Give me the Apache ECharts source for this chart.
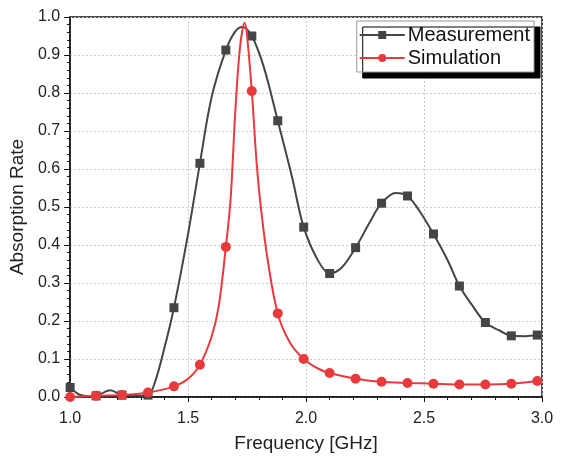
<!DOCTYPE html>
<html><head><meta charset="utf-8">
<script src="https://cdn.jsdelivr.net/npm/echarts@6/dist/echarts.min.js"></script>
<style>html,body{margin:0;padding:0;background:#fff}#c{width:573px;height:462px}</style>
</head><body><div id="c"></div>
<script>
// Marker frequencies (GHz), shared by both series
var markerFreq = [1.00,1.11,1.22,1.33,1.44,1.55,1.66,1.77,1.88,1.99,2.10,2.21,2.32,2.43,2.54,2.65,2.76,2.87,2.98];
// Measurement: values at markers
var measMarkerVal = [0.025,0.003,0.005,0.005,0.235,0.615,0.913,0.950,0.727,0.447,0.325,0.393,0.510,0.529,0.429,0.292,0.196,0.161,0.163];
// Measurement: extra curve readings between markers
var measExtraFreq = [1.04,1.08,1.17,1.28,1.36,1.40,1.50,1.60,1.70,1.73,1.82,1.94,2.05,2.15,2.27,2.38,2.48,2.60,2.70,2.82,2.93];
var measExtraVal  = [0.006,0.002,0.018,0.003,0.040,0.130,0.430,0.790,0.962,0.974,0.870,0.580,0.360,0.340,0.460,0.537,0.490,0.360,0.245,0.175,0.160];
// Simulation: values at markers
var simMarkerVal = [0.000,0.003,0.005,0.012,0.028,0.085,0.395,0.805,0.220,0.100,0.063,0.048,0.040,0.037,0.035,0.033,0.033,0.035,0.042];
// Simulation: extra curve readings between markers
var simExtraFreq = [1.50,1.60,1.63,1.68,1.70,1.72,1.74,1.75,1.79,1.81,1.84,1.93,2.05];
var simExtraVal  = [0.048,0.160,0.240,0.520,0.750,0.920,0.985,0.950,0.620,0.490,0.350,0.145,0.075];

var xTicks = ['1.0','1.5','2.0','2.5','3.0'];

function build(mx, my, ex, ey) {
  var pts = [];
  for (var i = 0; i < mx.length; i++) pts.push({value:[mx[i], my[i]], m:true});
  for (var j = 0; j < ex.length; j++) pts.push({value:[ex[j], ey[j]], m:false});
  pts.sort(function(a,b){return a.value[0]-b.value[0];});
  return pts.map(function(p){ return p.m ? {value:p.value} : {value:p.value, symbol:'none'}; });
}

var FONT = 'Liberation Sans, Arial';
var chart = echarts.init(document.getElementById('c'));
var gridLine = {show:true, lineStyle:{color:'#c8c8c8', type:[2,2], width:1}};
chart.setOption({
  animation:false,
  grid:{left:68, right:31, top:17, bottom:65, show:true, borderColor:'#111', borderWidth:1.5},
  legend:{
    right:39, top:21, orient:'vertical', itemGap:3, itemWidth:45, itemHeight:10,
    padding:[4,4,4,2],
    backgroundColor:'#fff', borderColor:'#999', borderWidth:1,
    shadowColor:'#000', shadowOffsetX:6, shadowOffsetY:6, shadowBlur:0,
    textStyle:{fontFamily:FONT, fontSize:20, color:'#111', padding:[0,0,0,-2]},
    data:['Measurement','Simulation']
  },
  xAxis:{
    type:'value', min:1, max:3, interval:0.5,
    name:'Frequency [GHz]', nameLocation:'middle', nameGap:37,
    nameTextStyle:{fontFamily:FONT, fontSize:19, color:'#222'},
    axisLine:{show:true, onZero:false, lineStyle:{color:'#111', width:1.5}},
    axisTick:{show:true, length:5, inside:false, lineStyle:{color:'#111'}},
    minorTick:{show:true, splitNumber:5, length:3, lineStyle:{color:'#111'}},
    splitLine:gridLine,
    axisLabel:{fontFamily:FONT, fontSize:16, color:'#222', margin:14,
      formatter:function(v){ var i = Math.round((v-1)/0.5); return xTicks[i] !== undefined ? xTicks[i] : ''; }}
  },
  yAxis:{
    type:'value', min:0, max:1, interval:0.1,
    name:'Absorption Rate', nameLocation:'middle', nameGap:40,
    nameTextStyle:{fontFamily:FONT, fontSize:19, color:'#222'},
    axisLine:{show:true, onZero:false, lineStyle:{color:'#111', width:1.5}},
    axisTick:{show:true, length:6, lineStyle:{color:'#111'}},
    minorTick:{show:true, splitNumber:5, length:3, lineStyle:{color:'#111'}},
    splitLine:gridLine,
    axisLabel:{fontFamily:FONT, fontSize:16, color:'#222', margin:10,
      formatter:function(v){return v.toFixed(1);}}
  },
  series:[
    {name:'Measurement', type:'line', smooth:0.35, symbol:'rect', symbolSize:9, showAllSymbol:true,
     itemStyle:{color:'#454545'}, lineStyle:{color:'#454545', width:2}, z:2,
     data:build(markerFreq, measMarkerVal, measExtraFreq, measExtraVal)},
    {name:'Simulation', type:'line', smooth:0.35, symbol:'circle', symbolSize:10, showAllSymbol:true,
     itemStyle:{color:'#e83a3c'}, lineStyle:{color:'#e83a3c', width:2}, z:3,
     data:build(markerFreq, simMarkerVal, simExtraFreq, simExtraVal)}
  ]
});
</script></body></html>
